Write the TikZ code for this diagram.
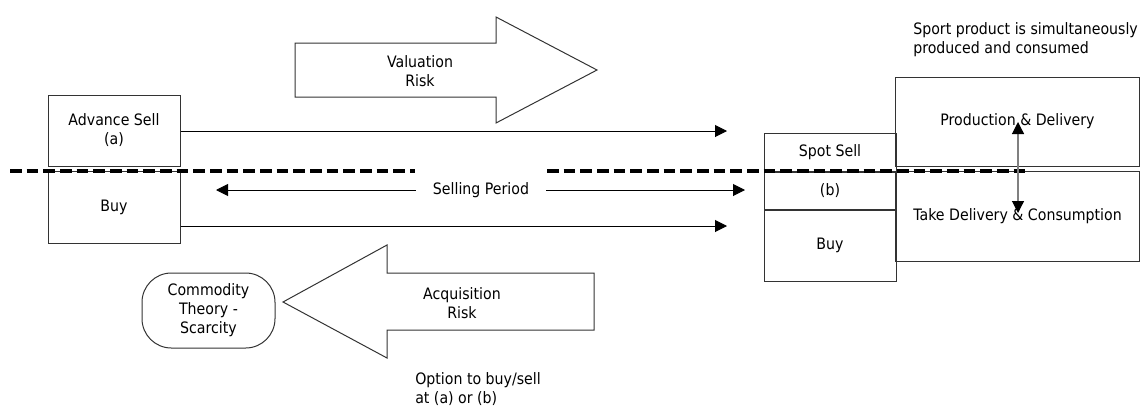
\documentclass[tikz,border=0pt]{standalone}
\usepackage{fontspec}
\setmainfont{DejaVu Sans}[FakeStretch=0.9]
\usetikzlibrary{arrows.meta,positioning,calc}
\colorlet{edge}{black!80}

\begin{document}
\begin{tikzpicture}[x=0.75pt,y=-0.75pt,
  font=\fontsize{11.8}{14.3}\selectfont,
  box/.style={draw=edge,line width=0.75pt,inner sep=0pt,align=center},
  conn/.style={-{Triangle[length=9pt,width=9pt]},line width=0.75pt},
  twoway/.style={{Triangle[length=9pt,width=9pt,color=black]}-{Triangle[length=9pt,width=9pt,color=black]},line width=0.9pt,gray},
  divide/.style={line width=3pt,dash pattern=on 8.75pt off 3.75pt},
  bigarrow/.style={draw=edge,line width=0.75pt,line join=miter}]
  \useasboundingbox (0,0) rectangle (1141,407);

  % left column
  \node[box,minimum width=99pt,minimum height=53.25pt] (advsell) at (114,130.5) {Advance Sell\\(a)};
  \node[box,minimum width=99pt,minimum height=54pt,below=3pt of advsell] (buyleft) {Buy};

  % right column
  \node[box,minimum width=99pt,minimum height=28.5pt] (spotsell) at (830,152) {Spot Sell};
  \node[box,minimum width=99pt,minimum height=27.75pt,below=0pt of spotsell] (optb) {(b)};
  \node[box,minimum width=99pt,minimum height=53.25pt,below=0pt of optb] (buyright) {Buy};
  \node[box,minimum width=183pt,minimum height=66.75pt] (prod) at (1017.5,121.5) {Production \& Delivery};
  \node[box,minimum width=183pt,minimum height=67.5pt,below=3pt of prod] (take) {Take Delivery \& Consumption};

  \node[box,minimum width=99.75pt,minimum height=56.25pt,rounded corners=22pt] (scarcity) at (208.5,310.5) {Commodity\\Theory -\\Scarcity};

  % block arrows
  \draw[bigarrow] (295,43) -- (496,43) -- (496,17) -- (597,70) -- (496,123) -- (496,97) -- (295,97) -- cycle;
  \node[align=center] (valrisk) at (420,71) {Valuation\\Risk};
  \draw[bigarrow] (594,273) -- (387,273) -- (387,245) -- (283,302) -- (387,358) -- (387,330) -- (594,330) -- cycle;
  \node[align=center] (acqrisk) at (462,303) {Acquisition\\Risk};

  % flows
  \coordinate (advend) at (727,131);
  \coordinate (buyend) at (727,226);
  \draw[conn] (advsell.east |- advend) -- (advend);
  \draw[conn] (buyleft.east |- buyend) -- (buyend);
  \node[inner xsep=12.75pt,inner ysep=0pt] (period) at (481,190) {Selling Period};
  \coordinate (perleft) at (216,190);
  \coordinate (perright) at (745,190);
  \draw[conn] (period.west) -- (perleft);
  \draw[conn] (period.east) -- (perright);

  % period boundary
  \coordinate (dl1) at (10,171);
  \coordinate (dl2) at (415,171);
  \coordinate (dr1) at (547,171);
  \coordinate (dr2) at (1028,171);
  \foreach \a/\b in {dl1/dl2,dr1/dr2} \draw[divide] (\a) -- (\b);

  \coordinate (pdtop) at (1018,122);
  \coordinate (pdbot) at (1018,213);
  \draw[twoway] (pdtop) -- (pdbot);

  \node[anchor=west,align=left,inner sep=0pt] (sportnote) at (913,40) {Sport product is simultaneously\\produced and consumed};
  \node[anchor=west,align=left,inner sep=0pt] (optnote) at (415,389) {Option to buy/sell\\at (a) or (b)};
\end{tikzpicture}
\end{document}
